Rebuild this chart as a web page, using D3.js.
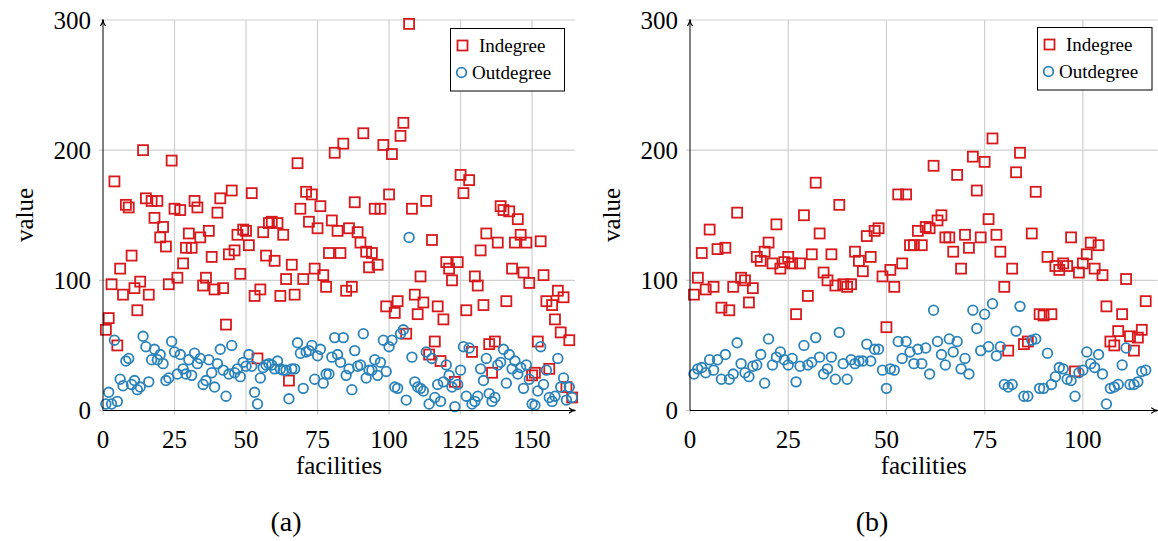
<!DOCTYPE html>
<html>
<head>
<meta charset="utf-8">
<script src="https://cdn.jsdelivr.net/npm/d3@7"></script>
<style>
  html, body { margin: 0; padding: 0; background: #fff; }
  svg { display: block; }
  text { font-family: "Liberation Serif", "DejaVu Serif", serif; fill: #000; }
</style>
</head>
<body>
<svg id="chart" width="1158" height="541"></svg>
<script>
// In- and out-degree of each facility, indexed 1..N (panel a: 164 facilities, panel b: 116)
const indegreeA = [
  62, 71, 97, 176, 50, 109, 89, 158, 156, 119,
  94, 77, 99, 200, 163, 89, 161, 148, 161, 133,
  141, 126, 97, 192, 155, 102, 154, 113, 125, 136,
  125, 161, 156, 133, 96, 102, 138, 118, 93, 152,
  163, 94, 66, 120, 169, 123, 135, 105, 139, 138,
  127, 167, 88, 40, 93, 137, 119, 144, 145, 115,
  144, 88, 135, 101, 23, 112, 89, 190, 155, 101,
  168, 145, 166, 109, 140, 157, 104, 95, 121, 146,
  198, 138, 121, 205, 92, 140, 95, 160, 137, 129,
  213, 122, 110, 121, 155, 112, 155, 204, 80, 166,
  197, 75, 84, 211, 221, 59, 297, 155, 89, 74,
  103, 83, 161, 43, 131, 53, 80, 38, 70, 114,
  109, 100, 22, 114, 181, 167, 77, 177, 45, 103,
  96, 123, 81, 136, 51, 29, 53, 129, 157, 154,
  84, 153, 109, 129, 147, 135, 106, 129, 98, 27,
  29, 53, 130, 104, 84, 32, 81, 70, 92, 60,
  87, 18, 54, 10
];
const outdegreeA = [
  5, 14, 5, 54, 7, 24, 19, 38, 40, 20,
  23, 16, 18, 57, 49, 22, 39, 47, 39, 43,
  36, 23, 25, 53, 45, 28, 43, 32, 28, 39,
  27, 44, 36, 40, 20, 23, 39, 29, 18, 36,
  47, 31, 11, 28, 50, 29, 32, 26, 37, 34,
  43, 34, 14, 5, 25, 33, 35, 36, 35, 32,
  38, 32, 31, 31, 9, 32, 32, 52, 44, 17,
  45, 46, 50, 24, 42, 47, 21, 28, 28, 41,
  56, 43, 37, 56, 27, 32, 16, 46, 34, 35,
  59, 25, 31, 31, 39, 27, 37, 54, 30, 49,
  54, 18, 17, 59, 62, 8, 133, 41, 22, 18,
  17, 15, 45, 5, 40, 10, 20, 7, 22, 35,
  27, 18, 3, 20, 31, 49, 11, 48, 5, 7,
  11, 32, 23, 40, 13, 7, 10, 35, 37, 47,
  21, 43, 32, 38, 28, 33, 17, 35, 24, 5,
  4, 15, 49, 20, 31, 10, 7, 11, 40, 18,
  25, 8, 18, 10
];
const indegreeB = [
  89, 102, 121, 93, 139, 95, 124, 79, 125, 77,
  95, 152, 102, 100, 83, 94, 118, 115, 122, 129,
  113, 143, 109, 114, 118, 113, 74, 113, 150, 88,
  120, 175, 136, 106, 100, 120, 96, 158, 97, 95,
  97, 122, 115, 107, 134, 118, 138, 140, 103, 64,
  108, 95, 166, 113, 166, 127, 127, 138, 127, 141,
  140, 188, 146, 150, 133, 133, 122, 181, 109, 135,
  125, 195, 169, 133, 191, 147, 209, 135, 122, 95,
  46, 109, 183, 198, 51, 53, 136, 168, 74, 73,
  118, 74, 111, 108, 113, 111, 133, 30, 106, 113,
  120, 129, 109, 127, 104, 80, 53, 50, 61, 74,
  101, 57, 46, 56, 62, 84
];
const outdegreeB = [
  28, 32, 33, 29, 39, 31, 39, 24, 43, 24,
  28, 52, 36, 29, 26, 34, 35, 43, 21, 55,
  35, 41, 45, 39, 35, 40, 22, 34, 50, 35,
  37, 56, 41, 28, 32, 41, 24, 60, 36, 24,
  39, 36, 38, 38, 51, 38, 47, 47, 31, 17,
  32, 31, 53, 40, 53, 45, 36, 47, 36, 48,
  28, 77, 53, 43, 35, 55, 45, 53, 32, 40,
  28, 77, 63, 46, 74, 49, 82, 42, 49, 20,
  18, 20, 61, 80, 11, 11, 54, 55, 17, 17,
  44, 20, 26, 33, 32, 24, 23, 11, 29, 31,
  45, 36, 33, 43, 28, 5, 17, 18, 20, 35,
  48, 20, 20, 22, 30, 31
];

const seriesNames = ["Indegree", "Outdegree"];
const yTicks = [0, 100, 200, 300];
const xTicksA = [0, 25, 50, 75, 100, 125, 150];
const xTicksB = [0, 25, 50, 75, 100];
const captions = ["(a)", "(b)"];

const RED = "#d7191c";
const BLUE = "#2b83ba";
const GRID = "#cfcfcf";
const SQ = 10;     // square marker side
const CR = 4.8;    // circle marker radius

const svg = d3.select("#chart");

const defs = svg.append("defs");
defs.append("marker")
  .attr("id", "arrow")
  .attr("viewBox", "0 0 10 10")
  .attr("refX", 9).attr("refY", 5)
  .attr("markerWidth", 7).attr("markerHeight", 7)
  .attr("markerUnits", "userSpaceOnUse")
  .attr("orient", "auto")
  .append("path")
  .attr("d", "M0,1 Q5,5 10,5 Q5,5 0,9")
  .attr("fill", "none")
  .attr("stroke", "#000")
  .attr("stroke-width", 1.6);

const panels = [
  { indeg: indegreeA, outdeg: outdegreeA, xTicks: xTicksA, xMax: 165,
    x0: 103, x1: 575, caption: captions[0], captionX: 286,
    legend: { x: 450.5, y: 28.5, w: 114, h: 62.5 } },
  { indeg: indegreeB, outdeg: outdegreeB, xTicks: xTicksB, xMax: 119,
    x0: 690, x1: 1157.5, caption: captions[1], captionX: 872,
    legend: { x: 1037.5, y: 27.5, w: 114.5, h: 62.5 } }
];

const y = d3.scaleLinear().domain([0, 300]).range([410.5, 20]);

panels.forEach(p => {
  const x = d3.scaleLinear().domain([0, p.xMax]).range([p.x0, p.x1]);
  const g = svg.append("g");

  // grid lines (with short tick stubs past the axes)
  g.append("g").selectAll("line.vg")
    .data(p.xTicks.filter(t => t > 0))
    .join("line")
    .attr("x1", d => x(d)).attr("x2", d => x(d))
    .attr("y1", y(0) + 4).attr("y2", y(300))
    .attr("stroke", GRID).attr("stroke-width", 1.2);
  g.append("g").selectAll("line.hg")
    .data(yTicks.filter(t => t > 0))
    .join("line")
    .attr("x1", x(0) - 4).attr("x2", p.x1)
    .attr("y1", d => y(d)).attr("y2", d => y(d))
    .attr("stroke", GRID).attr("stroke-width", 1.2);
  // tick stubs at the origin
  g.append("line").attr("x1", x(0) - 4).attr("x2", x(0))
    .attr("y1", y(0)).attr("y2", y(0)).attr("stroke", GRID).attr("stroke-width", 1.2);
  g.append("line").attr("x1", x(0)).attr("x2", x(0))
    .attr("y1", y(0)).attr("y2", y(0) + 4).attr("stroke", GRID).attr("stroke-width", 1.2);

  // tick labels
  g.append("g").selectAll("text")
    .data(yTicks).join("text")
    .attr("x", x(0) - 12).attr("y", d => y(d) + 8.5)
    .attr("text-anchor", "end")
    .attr("font-size", 25)
    .text(d => d);
  g.append("g").selectAll("text")
    .data(p.xTicks).join("text")
    .attr("x", d => x(d)).attr("y", y(0) + 37)
    .attr("text-anchor", "middle")
    .attr("font-size", 25)
    .text(d => d);

  // axis titles and caption
  g.append("text")
    .attr("x", (p.x0 + p.x1) / 2).attr("y", 474)
    .attr("text-anchor", "middle").attr("font-size", 25)
    .text("facilities");
  g.append("text")
    .attr("transform", `translate(${p.x0 - 70},215) rotate(-90)`)
    .attr("text-anchor", "middle").attr("font-size", 25)
    .text("value");
  g.append("text")
    .attr("x", p.captionX).attr("y", 531)
    .attr("text-anchor", "middle").attr("font-size", 28)
    .text(p.caption);

  // Indegree: open squares
  g.append("g").selectAll("rect")
    .data(p.indeg).join("rect")
    .attr("x", (d, i) => x(i + 1) - SQ / 2)
    .attr("y", d => y(d) - SQ / 2)
    .attr("width", SQ).attr("height", SQ)
    .attr("fill", "none").attr("stroke", RED).attr("stroke-width", 1.8);

  // Outdegree: open circles
  g.append("g").selectAll("circle")
    .data(p.outdeg).join("circle")
    .attr("cx", (d, i) => x(i + 1))
    .attr("cy", d => y(d))
    .attr("r", CR)
    .attr("fill", "none").attr("stroke", BLUE).attr("stroke-width", 1.8);

  // axis lines with arrow heads
  g.append("line")
    .attr("x1", x(0)).attr("x2", p.x1)
    .attr("y1", y(0)).attr("y2", y(0))
    .attr("stroke", "#000").attr("stroke-width", 1)
    .attr("marker-end", "url(#arrow)");
  g.append("line")
    .attr("x1", x(0)).attr("x2", x(0))
    .attr("y1", y(0)).attr("y2", y(300))
    .attr("stroke", "#000").attr("stroke-width", 1)
    .attr("marker-end", "url(#arrow)");

  // legend
  const L = p.legend;
  const lg = g.append("g");
  lg.append("rect")
    .attr("x", L.x).attr("y", L.y).attr("width", L.w).attr("height", L.h)
    .attr("fill", "#fff").attr("stroke", "#000").attr("stroke-width", 1);
  lg.append("rect")
    .attr("x", L.x + 12 - SQ / 2).attr("y", L.y + 17 - SQ / 2)
    .attr("width", SQ).attr("height", SQ)
    .attr("fill", "none").attr("stroke", RED).attr("stroke-width", 1.8);
  lg.append("text")
    .attr("x", L.x + 28.5).attr("y", L.y + 23.5)
    .attr("font-size", 19)
    .text(seriesNames[0]);
  lg.append("circle")
    .attr("cx", L.x + 11).attr("cy", L.y + 44).attr("r", CR)
    .attr("fill", "none").attr("stroke", BLUE).attr("stroke-width", 1.8);
  lg.append("text")
    .attr("x", L.x + 21.5).attr("y", L.y + 50.5)
    .attr("font-size", 19)
    .text(seriesNames[1]);
});
</script>
</body>
</html>
